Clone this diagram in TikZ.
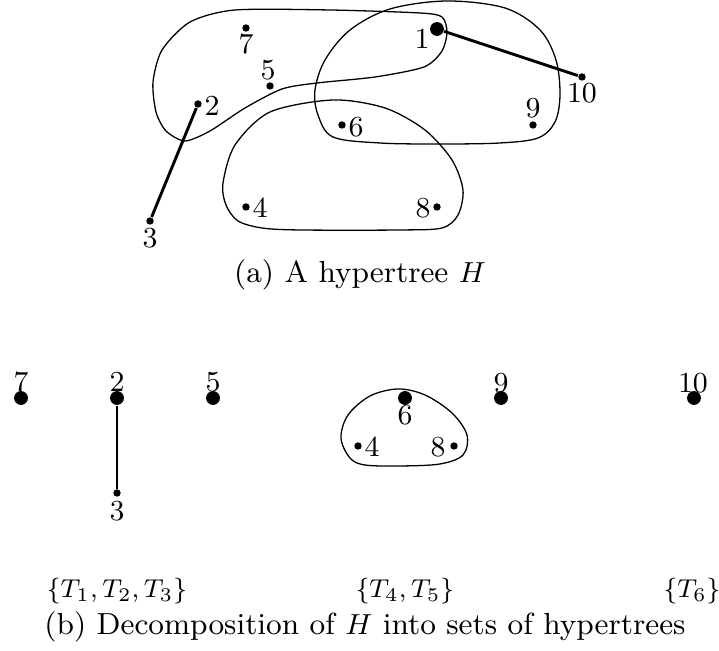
\documentclass[tikz,border=0pt]{standalone}
\begin{document}
\begin{tikzpicture}[x=0.31pt,y=-0.31pt,
  sdot/.style={circle,fill=black,inner sep=0pt,minimum size=2.3pt},
  bdot/.style={circle,fill=black,inner sep=0pt,minimum size=4.3pt},
  lbl/.style={inner sep=0pt,font=\fontsize{9}{10}\selectfont},
  setl/.style={inner sep=0pt,font=\fontsize{8.4}{10}\selectfont},
  capl/.style={inner sep=0pt,font=\fontsize{9.45}{11}\selectfont},
  tedge/.style={line width=0.9pt},
  hyper/.style={line width=0.4pt}]
\useasboundingbox (0,0) rectangle (719,651);
% ---- (a) ----
\draw[hyper] plot[smooth cycle,tension=0.45] coordinates {
 (185,141) (166,131) (156,112) (153,82) (162,50) (190,22) (235,10) (330,10) (420,13)
 (442,17) (447,32) (442,51) (424,67) (375,77) (317,83) (282,89) (245,108) (210,131)};
\draw[hyper] plot[smooth cycle,tension=0.55] coordinates {
 (333,137) (318,115) (315,90) (325,60) (350,30) (390,9) (447,1) (505,8)
 (540,30) (556,60) (560,95) (555,122) (538,138) (500,143) (440,144) (380,143)};
\draw[hyper] plot[smooth cycle,tension=0.5] coordinates {
 (223,183) (226,205) (238,221) (262,228) (300,230) (400,230) (442,228) (458,215)
 (463,190) (452,160) (425,130) (385,108) (333,100) (270,112) (235,145)};
\node[sdot] (a7) at (246,28) {};
\node[sdot] (a5) at (270,86) {};
\node[sdot] (a2) at (198,104) {};
\node[sdot] (a3) at (150,221) {};
\node[bdot] (a1) at (437,29) {};
\node[sdot] (a10) at (582,77) {};
\node[sdot] (a9) at (533,125) {};
\node[sdot] (a6) at (342,125) {};
\node[sdot] (a4) at (246,207) {};
\node[sdot] (a8) at (437,207) {};
\draw[tedge] (a2) -- (a3);
\draw[tedge] (a1) -- (a10);
\node[lbl] (la7) at (246,44) {7};
\node[lbl] (la5) at (268,70) {5};
\node[lbl] (la2) at (212,106) {2};
\node[lbl] (la3) at (150,238) {3};
\node[lbl] (la1) at (422,39) {1};
\node[lbl] (la10) at (582,93) {10};
\node[lbl] (la9) at (533,108) {9};
\node[lbl] (la6) at (356,127) {6};
\node[lbl] (la4) at (260,208) {4};
\node[lbl] (la8) at (423,208) {8};
\node[capl] (capa) at (360,275) {(a) A hypertree $H$};
% ---- (b) ----
\draw[hyper] plot[smooth cycle,tension=0.55] coordinates {
 (350,458) (341,438) (348,415) (370,396) (398,389) (425,395) (452,413)
 (467,435) (463,455) (440,464) (400,466) (365,465)};
\node[bdot] (b7) at (21,398) {};
\node[bdot] (b2) at (117,398) {};
\node[bdot] (b5) at (213,398) {};
\node[bdot] (b6) at (405,398) {};
\node[bdot] (b9) at (501,398) {};
\node[bdot] (b10) at (694,398) {};
\node[sdot] (b3) at (117,493) {};
\node[sdot] (b4) at (358,446) {};
\node[sdot] (b8) at (454,446) {};
\draw[tedge] (b2) -- (b3);
\node[lbl] (lb7) at (21,382) {7};
\node[lbl] (lb2) at (117,382) {2};
\node[lbl] (lb5) at (213,382) {5};
\node[lbl] (lb9) at (501,383) {9};
\node[lbl] (lb10) at (693,383) {10};
\node[lbl] (lb6) at (405,415) {6};
\node[lbl] (lb3) at (117,511) {3};
\node[lbl] (lb4) at (372,447) {4};
\node[lbl] (lb8) at (438,447) {8};
\node[setl] (s1) at (117,591) {$\{T_1,T_2,T_3\}$};
\node[setl] (s2) at (405,591) {$\{T_4,T_5\}$};
\node[setl] (s3) at (692,591) {$\{T_6\}$};
\node[capl] (capb) at (365,627) {(b) Decomposition of $H$ into sets of hypertrees};
\end{tikzpicture}
\end{document}
